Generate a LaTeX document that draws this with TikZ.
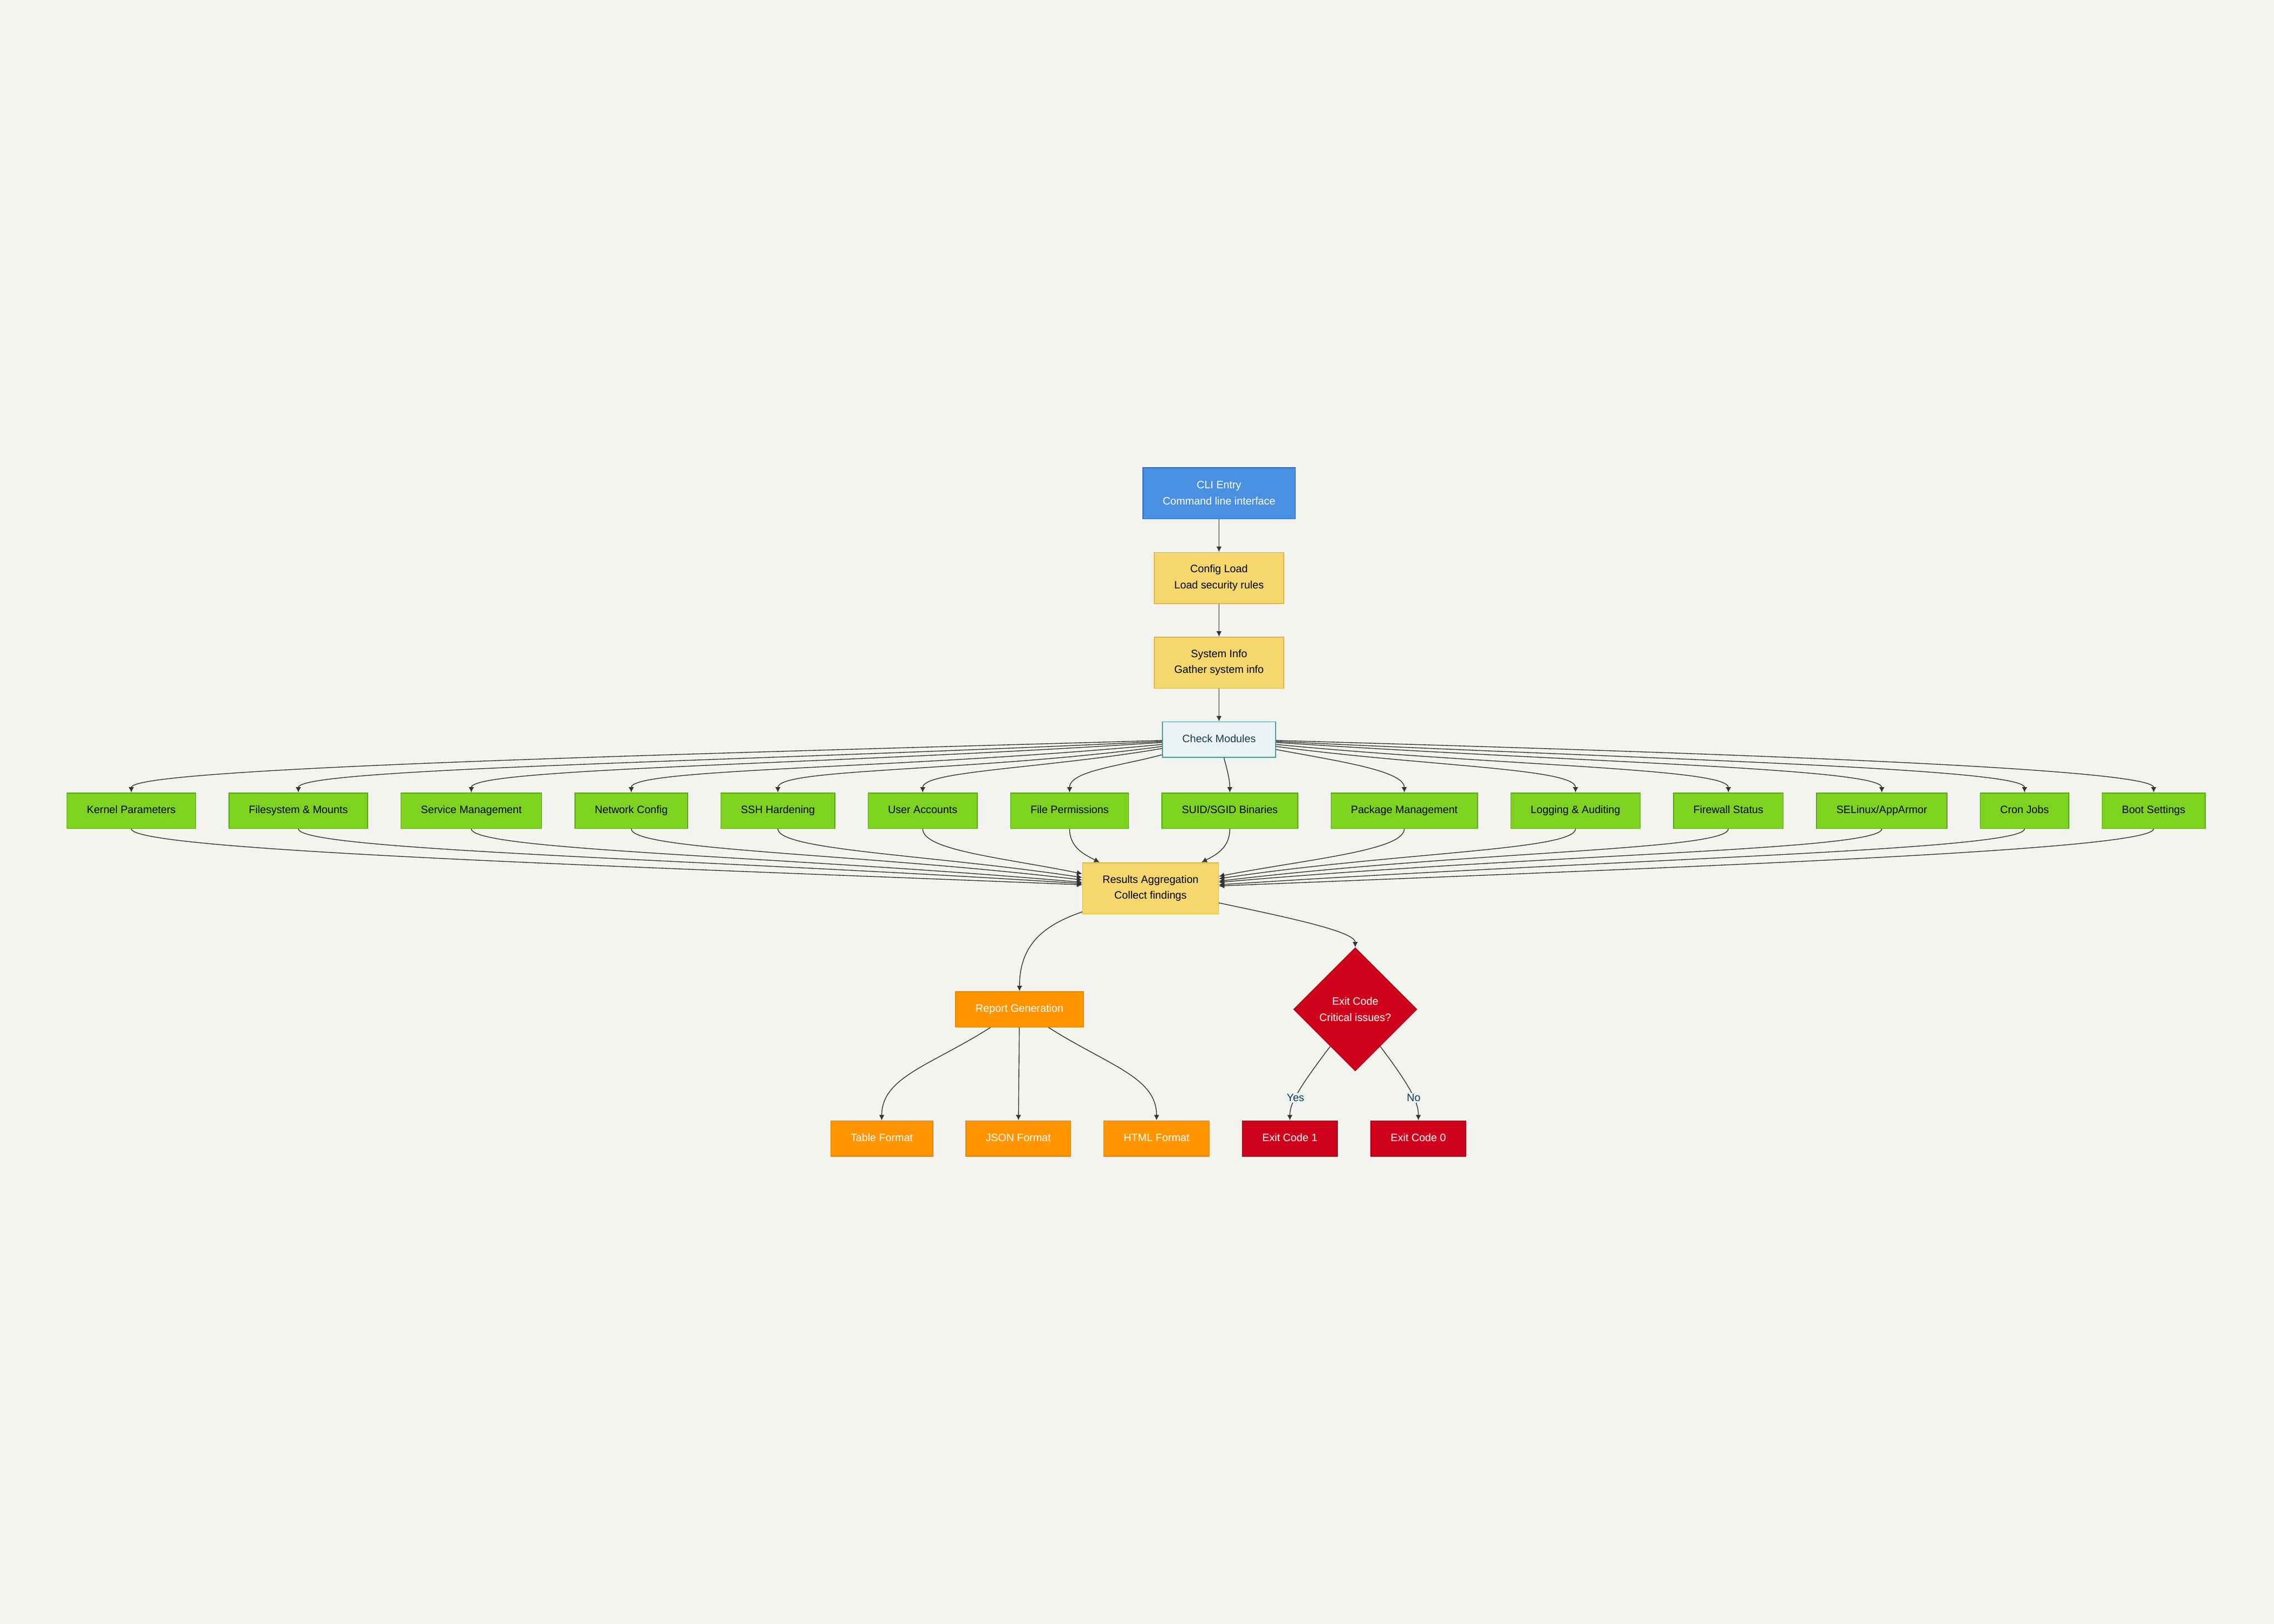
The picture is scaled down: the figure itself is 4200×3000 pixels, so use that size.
\documentclass[tikz,border=0pt]{standalone}
\usepackage{fontspec}
\setmainfont{Liberation Sans}
\usepackage{tikz}
\usetikzlibrary{arrows.meta,positioning,shapes.geometric}

\definecolor{bgcol}{HTML}{F3F4EF}
\definecolor{cliblue}{HTML}{4A90E2}
\definecolor{cliedge}{HTML}{2F6DB5}
\definecolor{stagey}{HTML}{F5D76E}
\definecolor{stageedge}{HTML}{E0B840}
\definecolor{hubfill}{HTML}{EAF4F5}
\definecolor{hubedge}{HTML}{4A9BA5}
\definecolor{hubtext}{HTML}{1B3A4B}
\definecolor{modgreen}{HTML}{7ED321}
\definecolor{modedge}{HTML}{5EA41A}
\definecolor{fmtorange}{HTML}{FF9500}
\definecolor{fmtedge}{HTML}{E08600}
\definecolor{exitred}{HTML}{D0021B}
\definecolor{exitedge}{HTML}{A80015}
\definecolor{lblfill}{HTML}{E8F3F3}
\definecolor{linkgray}{HTML}{333333}

\newcommand{\fsz}{\fontsize{19.7pt}{29.6pt}\selectfont}

\begin{document}
\begin{tikzpicture}[x=1pt,y=-1pt,
            box/.style={rectangle,draw,line width=1.5pt,inner xsep=36.75pt,inner ysep=0pt,minimum height=65.5pt,align=center,font=\fsz},
            one/.style={text height=14.5pt,text depth=4.2pt},
            tall/.style={minimum height=94.5pt},
            entry/.style={box,tall,fill=cliblue,draw=cliedge,text=white},
            stage/.style={box,tall,fill=stagey,draw=stageedge,text=black},
            hub/.style={box,one,fill=hubfill,draw=hubedge,text=hubtext},
            module/.style={box,one,fill=modgreen,draw=modedge,text=black},
            fmt/.style={box,one,fill=fmtorange,draw=fmtedge,text=white},
            code/.style={box,one,fill=exitred,draw=exitedge,text=white},
            decide/.style={diamond,aspect=1,draw=exitedge,fill=exitred,line width=1.5pt,minimum width=227.5pt,minimum height=227.5pt,inner sep=0pt,align=center,text=white,font=\fsz},
            lbl/.style={fill=lblfill,text=hubtext,inner sep=2pt,font=\fsz},
            link/.style={draw=linkgray,line width=1.4pt,-{Latex[length=10pt,width=10pt]}}
          ]
          \path[use as bounding box,fill=bgcol] (0,0) rectangle (4200,3000);

          %pipeline
          \node[entry] (cli) at (2251.5,911) {CLI Entry\\Command line interface};
          \node[stage,below=60.5pt of cli] (cfg) {Config Load\\Load security rules};
          \node[stage,below=60.5pt of cfg] (si) {System Info\\Gather system info};
          \node[hub,below=60.5pt of si] (chk) {Check Modules};

          %modules
          \node[module] (kp) at (242.5,1497.5) {Kernel Parameters};
          \node[module,right=60pt of kp] (fs) {Filesystem \& Mounts};
          \node[module,right=60pt of fs] (sm) {Service Management};
          \node[module,right=60pt of sm] (nc) {Network Config};
          \node[module,right=60pt of nc] (ssh) {SSH Hardening};
          \node[module,right=60pt of ssh] (ua) {User Accounts};
          \node[module,right=60pt of ua] (fp) {File Permissions};
          \node[module,right=60pt of fp] (suid) {SUID/SGID Binaries};
          \node[module,right=60pt of suid] (pm) {Package Management};
          \node[module,right=60pt of pm] (la) {Logging \& Auditing};
          \node[module,right=60pt of la] (fw) {Firewall Status};
          \node[module,right=60pt of fw] (sel) {SELinux/AppArmor};
          \node[module,right=60pt of sel] (cron) {Cron Jobs};
          \node[module,right=60pt of cron] (boot) {Boot Settings};

          %results and outputs
          \node[stage] (res) at (2125,1641) {Results Aggregation\\Collect findings};
          \node[fmt] (rg) at (1883,1864.5) {Report Generation};
          \node[decide] (ec) at (2503,1864.5) {Exit Code\\Critical issues?};
          \node[fmt] (tf) at (1628.5,2103) {Table Format};
          \node[fmt,right=59.5pt of tf] (jf) {JSON Format};
          \node[fmt,right=59.5pt of jf] (hf) {HTML Format};
          \node[code,right=59.5pt of hf] (e1) {Exit Code 1};
          \node[code,right=60.5pt of e1] (e0) {Exit Code 0};

          \path
          (cli) edge[link] (cfg)
          (cfg) edge[link] (si)
          (si) edge[link] (chk)
          ;

          %fan out
          \draw[link] (chk.181.6) .. controls +(-950,27) and +(0,-45) .. (kp.north);
          \draw[link] (chk.182.7) .. controls +(-799,38) and +(0,-45) .. (fs.north);
          \draw[link] (chk.183.8) .. controls +(-639,42) and +(0,-45) .. (sm.north);
          \draw[link] (chk.185.4) .. controls +(-488,46) and +(0,-45) .. (nc.north);
          \draw[link] (chk.187.6) .. controls +(-352,47) and +(0,-45) .. (ssh.north);
          \draw[link] (chk.189.7) .. controls +(-217,37) and +(0,-40) .. (ua.north);
          \draw[link] (chk.195) .. controls +(-77,21) and +(0,-40) .. (fp.north);
          \draw[link] (chk.-75) .. controls +(5,19) and +(0,-25) .. (suid.north);
          \draw[link] (chk.-10.5) .. controls +(118,22) and +(0,-40) .. (pm.north);
          \draw[link] (chk.-7.6) .. controls +(278,37) and +(0,-45) .. (la.north);
          \draw[link] (chk.-5.4) .. controls +(418,40) and +(0,-45) .. (fw.north);
          \draw[link] (chk.-3.8) .. controls +(559,37) and +(0,-45) .. (sel.north);
          \draw[link] (chk.-2.7) .. controls +(689,33) and +(0,-45) .. (cron.north);
          \draw[link] (chk.-1.6) .. controls +(810,23) and +(0,-45) .. (boot.north);

          %fan in
          \draw[link] (kp.south) .. controls +(0,40) and +(-879,-35) .. (res.177.7);
          \draw[link] (fs.south) .. controls +(0,40) and +(-718,-46) .. (res.176.3);
          \draw[link] (sm.south) .. controls +(0,40) and +(-558,-49) .. (res.175);
          \draw[link] (nc.south) .. controls +(0,40) and +(-412,-49) .. (res.173.2);
          \draw[link] (ssh.south) .. controls +(0,40) and +(-277,-42) .. (res.171.4);
          \draw[link] (ua.south) .. controls +(0,40) and +(-147,-30) .. (res.168.3);
          \draw[link] (fp.south) .. controls +(0,35) and +(-27,-14) .. (res.153);
          \draw[link] (suid.south) .. controls +(0,35) and +(27,-14) .. (res.27);
          \draw[link] (pm.south) .. controls +(0,40) and +(167,-32) .. (res.10.9);
          \draw[link] (la.south) .. controls +(0,40) and +(326,-49) .. (res.8.6);
          \draw[link] (fw.south) .. controls +(0,40) and +(467,-56) .. (res.6.8);
          \draw[link] (sel.south) .. controls +(0,40) and +(608,-53) .. (res.5);
          \draw[link] (cron.south) .. controls +(0,40) and +(738,-48) .. (res.3.7);
          \draw[link] (boot.south) .. controls +(0,40) and +(859,-35) .. (res.2.3);

          %outputs
          \draw[link] (res.199) .. controls +(-66,23) and +(0,-90) .. (rg.north);
          \draw[link] (res.-12) .. controls +(117,25) and +(0,-30) .. (ec.north);
          \draw[link] (rg.212.4) .. controls +(-110,70) and +(0,-80) .. (tf.north);
          \draw[link] (rg) -- (jf);
          \draw[link] (rg.-32.4) .. controls +(110,70) and +(0,-80) .. (hf.north);
          \draw[link] (ec.236) .. controls +(-62,82) and +(0,-30) .. (e1.north) node[lbl,pos=0.56] {Yes};
          \draw[link] (ec.-56) .. controls +(62,82) and +(0,-30) .. (e0.north) node[lbl,pos=0.56] {No};

      \end{tikzpicture}
\end{document}
